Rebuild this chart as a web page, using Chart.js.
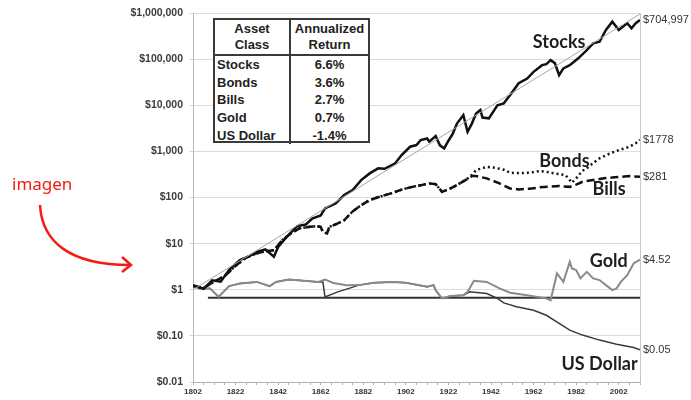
<!DOCTYPE html>
<html>
<head>
<meta charset="utf-8">
<script src="https://cdn.jsdelivr.net/npm/chart.js@4"></script>
<style>
    body { margin: 0; background: #fff; }
    #wrap { position: relative; width: 691px; height: 400px; overflow: hidden; }
    #tbl {
        position: absolute; left: 213px; top: 18px; width: 157px; height: 125px;
        box-sizing: border-box; border: 2px solid #3a3a3a; background: #fff;
        font: bold 13px "Liberation Sans", Arial, sans-serif; color: #222;
    }
    #tbl table { border-collapse: collapse; width: 100%; }
    #tbl td { padding: 0; }
    #tbl .head td { height: 34px; line-height: 16px; text-align: center; border-bottom: 2px solid #3a3a3a; }
    #tbl .row td { height: 17.6px; line-height: 17px; }
    #tbl td.c1 { width: 72px; padding-left: 2px; border-right: 2px solid #3a3a3a; }
    #tbl td.c2 { text-align: center; }
    #imagen {
        position: absolute; left: 12px; top: 172px; line-height: 20px;
        font: 17px "Noto Sans", sans-serif; color: #f21c12;
    }
    #arrow { position: absolute; left: 0; top: 0; }
</style>
</head>
<body>
<div id="wrap">
    <canvas id="myChart" width="691" height="400"></canvas>
    <div id="tbl"></div>
    <div id="imagen">imagen</div>
    <svg id="arrow" width="150" height="290">
        <path d="M40,205 C42,242 70,265 130,265" fill="none" stroke="#f21c12" stroke-width="2.5"/>
        <polyline points="122,257 131,265 122,272" fill="none" stroke="#f21c12" stroke-width="2.5"/>
    </svg>
</div>
<script>
// annual summary table
var assetClasses = ["Stocks", "Bonds", "Bills", "Gold", "US Dollar"];
var annualReturns = ["6.6%", "3.6%", "2.7%", "0.7%", "-1.4%"];

// y axis ticks
var yTicks = [0.01, 0.1, 1, 10, 100, 1000, 10000, 100000, 1000000];
var yTickLabels = ["$0.01", "$0.10", "$1", "$10", "$100", "$1,000", "$10,000", "$100,000", "$1,000,000"];

// end values shown on the right
var endValues = [704997, 1778, 281, 4.52, 0.05];
var endLabels = ["$704,997", "$1778", "$281", "$4.52", "$0.05"];

var stockYears = [1802, 1807, 1811, 1815, 1819, 1824, 1828, 1832, 1836, 1840, 1842, 1846, 1851, 1855, 1858, 1862, 1864, 1869, 1873, 1877, 1881, 1885, 1889, 1892, 1897, 1900, 1904, 1907, 1909, 1912, 1913, 1916, 1918, 1920, 1922, 1924, 1926, 1929, 1931, 1933, 1935, 1937, 1938, 1941, 1945, 1948, 1951, 1955, 1959, 1962, 1966, 1968, 1970, 1972, 1974, 1976, 1979, 1983, 1987, 1990, 1993, 1996, 1999, 2002, 2006, 2008, 2010, 2012];
var stockValues = [1.25, 1.05, 1.6, 1.5, 2.7, 4.4, 5.2, 6.6, 7.5, 5.2, 8.5, 14, 24, 26, 35, 41, 58, 74, 113, 145, 238, 333, 428, 420, 550, 830, 1260, 1370, 1760, 1900, 1620, 2150, 1350, 1160, 1700, 2400, 4000, 6100, 2660, 4000, 6600, 7900, 5400, 5200, 10000, 11000, 16600, 30000, 38000, 53000, 74000, 78000, 95000, 82000, 45000, 63000, 74000, 104000, 157000, 220000, 238000, 428000, 650000, 428000, 600000, 466000, 600000, 704997];

var bondYears = [1802, 1807, 1812, 1817, 1822, 1827, 1832, 1836, 1840, 1844, 1848, 1852, 1857, 1860, 1862, 1863, 1865, 1866, 1870, 1873, 1877, 1881, 1885, 1890, 1895, 1900, 1904, 1909, 1913, 1916, 1919, 1922, 1926, 1930, 1933, 1935, 1940, 1944, 1948, 1951, 1955, 1960, 1965, 1968, 1972, 1977, 1980, 1982, 1985, 1987, 1990, 1993, 1998, 2002, 2007, 2010, 2012];
var bondValues = [1.2, 1.1, 1.5, 2.0, 3.3, 5.0, 6.2, 6.8, 7.2, 11.9, 16.6, 21.4, 23.1, 24, 23, 18, 16.6, 23, 27.4, 32, 50, 68, 88, 105, 123, 148, 166, 185, 202, 195, 133, 150, 186, 238, 306, 393, 463, 440, 400, 343, 340, 343, 375, 361, 330, 306, 210, 260, 380, 428, 560, 705, 906, 1066, 1259, 1500, 1778];

var billYears = [1802, 1807, 1812, 1817, 1822, 1827, 1832, 1836, 1840, 1844, 1848, 1852, 1857, 1860, 1862, 1863, 1865, 1866, 1870, 1873, 1877, 1881, 1885, 1890, 1895, 1900, 1904, 1909, 1913, 1916, 1919, 1922, 1926, 1930, 1933, 1935, 1940, 1946, 1951, 1955, 1960, 1965, 1970, 1974, 1979, 1982, 1985, 1990, 1995, 2000, 2007, 2012];
var billValues = [1.2, 1.1, 1.5, 2.0, 3.3, 5.0, 6.2, 6.8, 7.2, 11.9, 16.6, 21.4, 23.1, 24, 23, 18, 16.6, 23, 27.4, 32, 50, 68, 88, 105, 123, 148, 166, 185, 202, 195, 133, 150, 186, 238, 291, 291, 260, 202, 157, 150, 155, 166, 172, 177, 170, 190, 219, 240, 260, 275, 291, 281];

var goldYears = [1802, 1805, 1810, 1814, 1819, 1824, 1832, 1838, 1841, 1847, 1854, 1861, 1864, 1868, 1874, 1880, 1887, 1896, 1902, 1912, 1915, 1916, 1919, 1923, 1929, 1931, 1934, 1940, 1946, 1951, 1959, 1968, 1970, 1973, 1976, 1979, 1980, 1982, 1984, 1987, 1990, 1993, 1996, 1999, 2001, 2003, 2006, 2009, 2012];
var goldValues = [1.25, 1.07, 1.07, 0.7, 1.2, 1.37, 1.48, 1.2, 1.48, 1.67, 1.56, 1.48, 1.67, 1.4, 1.25, 1.26, 1.41, 1.48, 1.41, 1.16, 1.26, 0.98, 0.65, 0.73, 0.76, 0.9, 1.56, 1.48, 1.07, 0.86, 0.76, 0.65, 0.59, 2.26, 1.48, 4.03, 2.9, 2.66, 1.76, 2.44, 1.76, 1.62, 1.26, 0.98, 1.07, 1.48, 2.07, 3.72, 4.52];

var dollarYears = [1802, 1805, 1810, 1814, 1819, 1824, 1832, 1838, 1841, 1847, 1854, 1861, 1863, 1864, 1870, 1876, 1880, 1887, 1896, 1902, 1912, 1915, 1916, 1919, 1923, 1929, 1932, 1940, 1945, 1948, 1954, 1962, 1968, 1974, 1979, 1985, 1993, 2001, 2009, 2012];
var dollarValues = [1.25, 1.07, 1.07, 0.7, 1.2, 1.37, 1.48, 1.2, 1.48, 1.67, 1.56, 1.48, 1.5, 0.7, 0.9, 1.1, 1.26, 1.41, 1.48, 1.41, 1.16, 1.26, 0.98, 0.65, 0.73, 0.76, 0.9, 0.83, 0.65, 0.52, 0.43, 0.36, 0.28, 0.186, 0.133, 0.104, 0.081, 0.066, 0.056, 0.05];

var trendYears = [1802, 2012];
var trendValues = [1, 950000];

var floorYears = [1809, 2012];
var floorValues = [0.67, 0.67];

// series names written on the chart, anchored in data units
var seriesNames = ["Stocks", "Bonds", "Bills", "Gold", "US Dollar"];
var nameYears = [1974, 1976.5, 1997.5, 1997.3, 1993];
var nameValues = [234000, 616, 150, 4.2, 0.0245];

function points(xs, ys) {
    return xs.map(function (x, i) {
        return { x: x, y: ys[i] };
    });
}

// build the table
var html = `<table><tr class="head"><td class="c1" style="text-align:center;padding-left:0">Asset<br>Class</td><td class="c2">Annualized<br>Return</td></tr>`;
for (var i = 0; i < assetClasses.length; i++) {
    html += `<tr class="row"><td class="c1">${assetClasses[i]}</td><td class="c2">${annualReturns[i]}</td></tr>`;
}
html += `</table>`;
document.getElementById("tbl").innerHTML = html;

Chart.defaults.font.family = '"Liberation Sans", Arial, sans-serif';

var seriesNamePlugin = {
    id: "seriesNames",
    afterDatasetsDraw: function (chart) {
        var ctx = chart.ctx;
        var sx = chart.scales.x;
        var sy = chart.scales.y;
        ctx.save();
        ctx.font = 'bold 18px Lato, "Open Sans", sans-serif';
        ctx.fillStyle = "#1e1e1e";
        ctx.textAlign = "center";
        ctx.textBaseline = "middle";
        for (var i = 0; i < seriesNames.length; i++) {
            ctx.fillText(seriesNames[i], sx.getPixelForValue(nameYears[i]), sy.getPixelForValue(nameValues[i]));
        }
        ctx.restore();
    },
};

var ctx = document.getElementById("myChart").getContext("2d");
var myChart = new Chart(ctx, {
    type: "line",
    data: {
        datasets: [
            { label: "Trend", data: points(trendYears, trendValues), borderColor: "#a6a6a6", borderWidth: 1 },
            { label: "Stocks", data: points(stockYears, stockValues), borderColor: "#111", borderWidth: 2.5 },
            { label: "Bonds", data: points(bondYears, bondValues), borderColor: "#111", borderWidth: 2.5, borderDash: [2, 3] },
            { label: "Bills", data: points(billYears, billValues), borderColor: "#111", borderWidth: 2.5, borderDash: [8, 4] },
            { label: "Gold", data: points(goldYears, goldValues), borderColor: "#8a8a8a", borderWidth: 2 },
            { label: "US Dollar", data: points(dollarYears, dollarValues), borderColor: "#3a3a3a", borderWidth: 1.5 },
            { label: "Floor", data: points(floorYears, floorValues), borderColor: "#333", borderWidth: 2 },
        ],
    },
    options: {
        responsive: false,
        animation: false,
        layout: { padding: { top: 13 } },
        elements: { point: { radius: 0 }, line: { tension: 0 } },
        plugins: { legend: { display: false }, tooltip: { enabled: false } },
        scales: {
            x: {
                type: "linear",
                min: 1802,
                max: 2012,
                afterBuildTicks: function (scale) {
                    var t = [];
                    for (var v = 1802; v <= 2012; v += 5) t.push({ value: v });
                    scale.ticks = t;
                },
                afterFit: function (scale) {
                    scale.height = 18;
                },
                grid: { drawOnChartArea: false, tickLength: 3, color: "#b0b0b0" },
                border: { color: "#b0b0b0" },
                ticks: {
                    autoSkip: false,
                    maxRotation: 0,
                    padding: 2,
                    color: "#333",
                    font: { size: 8, weight: "bold" },
                    callback: function (v) {
                        return (v - 1802) % 20 === 0 ? String(v) : "";
                    },
                },
            },
            y: {
                type: "logarithmic",
                position: "left",
                min: 0.01,
                max: 1000000,
                afterBuildTicks: function (scale) {
                    scale.ticks = yTicks.map(function (v) {
                        return { value: v };
                    });
                },
                afterFit: function (scale) {
                    scale.width = 193;
                },
                grid: { color: "#dcdcdc", tickLength: 4 },
                border: { color: "#b8b8b8" },
                ticks: {
                    padding: 6,
                    color: "#3c3c3c",
                    font: { size: 10.5, weight: "bold" },
                    callback: function (v) {
                        var i = yTicks.indexOf(v);
                        return i >= 0 ? yTickLabels[i] : "";
                    },
                },
            },
            y2: {
                type: "logarithmic",
                position: "right",
                min: 0.01,
                max: 1000000,
                afterBuildTicks: function (scale) {
                    scale.ticks = endValues.map(function (v) {
                        return { value: v };
                    });
                },
                afterFit: function (scale) {
                    scale.width = 51;
                },
                grid: { drawOnChartArea: false, tickLength: 0 },
                border: { color: "#c8c8c8" },
                ticks: {
                    padding: 3,
                    color: "#333",
                    font: { size: 11 },
                    callback: function (v) {
                        var i = endValues.indexOf(v);
                        return i >= 0 ? endLabels[i] : "";
                    },
                },
            },
        },
    },
    plugins: [seriesNamePlugin],
});
</script>
</body>
</html>
